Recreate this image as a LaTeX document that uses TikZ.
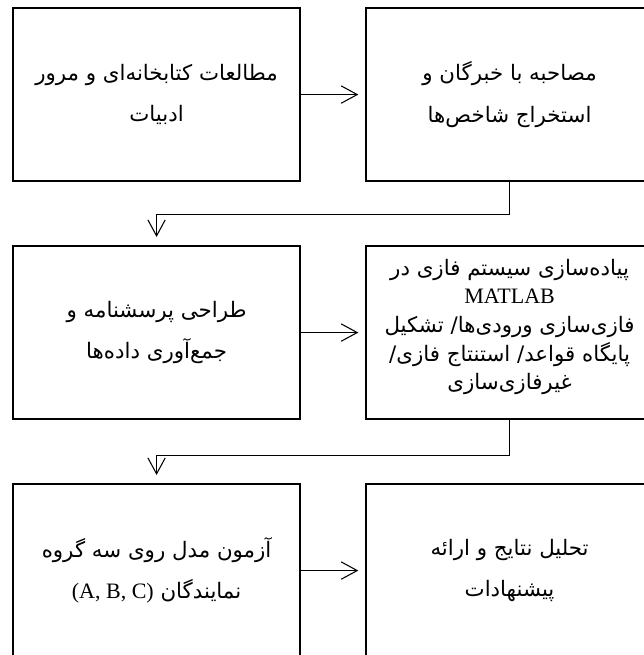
\documentclass[tikz,border=0pt]{standalone}
\usepackage{fontspec}
\setmainfont{Liberation Serif}
\newfontfamily\farsi[Script=Arabic]{DejaVu Sans}
\TeXXeTstate=1
\usetikzlibrary{arrows.meta,positioning}
\newcommand{\rl}[1]{\beginR #1\endR}

\begin{document}
\begin{tikzpicture}[
  node distance=47.15pt and 47.9pt,
  box/.style={rectangle, draw, line width=1.6pt, minimum width=215.25pt, minimum height=129.75pt,
    align=center, inner sep=2pt, font=\farsi\fontsize{16}{31}\selectfont},
  dense/.style={font=\farsi\fontsize{16}{21.5}\selectfont},
  arr/.style={-{Straight Barb[length=12pt, width=13pt]}, line width=0.8pt, shorten >=5pt}
]
\useasboundingbox (0,0) rectangle (482.25pt,-491.25pt);
\node[box, anchor=north west] (lit) at (9pt,-5.25pt) {\rl{مطالعات کتابخانه^^^^200cای و مرور}\\\rl{ادبیات}};
\node[box, right=of lit] (interview) {\rl{مصاحبه با خبرگان و}\\\rl{استخراج شاخص^^^^200cها}};
\node[box, below=of lit] (design) {\rl{طراحی پرسشنامه و}\\\rl{جمع^^^^200cآوری داده^^^^200cها}};
\node[box, dense, right=of design] (fuzzy) {\rl{پیاده^^^^200cسازی سیستم فازی در}\\{\rmfamily\fontsize{16.5}{21.5}\selectfont MATLAB}\\\rl{فازی^^^^200cسازی ورودی^^^^200cها/ تشکیل}\\\rl{پایگاه قواعد/ استنتاج فازی/}\\\rl{غیرفازی^^^^200cسازی}\\[-9pt]};
\node[box, below=of design] (test) {\rl{آزمون مدل روی سه گروه}\\{\rmfamily\fontsize{16.5}{31}\selectfont (A, B, C)} \rl{نمایندگان}};
\node[box, right=of test] (result) {\rl{تحلیل نتایج و ارائه}\\\rl{پیشنهادات}};

\draw[arr] (lit) -- (interview);
\draw[arr, shorten >=6pt] (interview.south) -- ++(0,-24pt) -| (design.north);
\draw[arr] (design) -- (fuzzy);
\draw[arr, shorten >=6pt] (fuzzy.south) -- ++(0,-26.25pt) -| (test.north);
\draw[arr] (test) -- (result);
\end{tikzpicture}
\end{document}
